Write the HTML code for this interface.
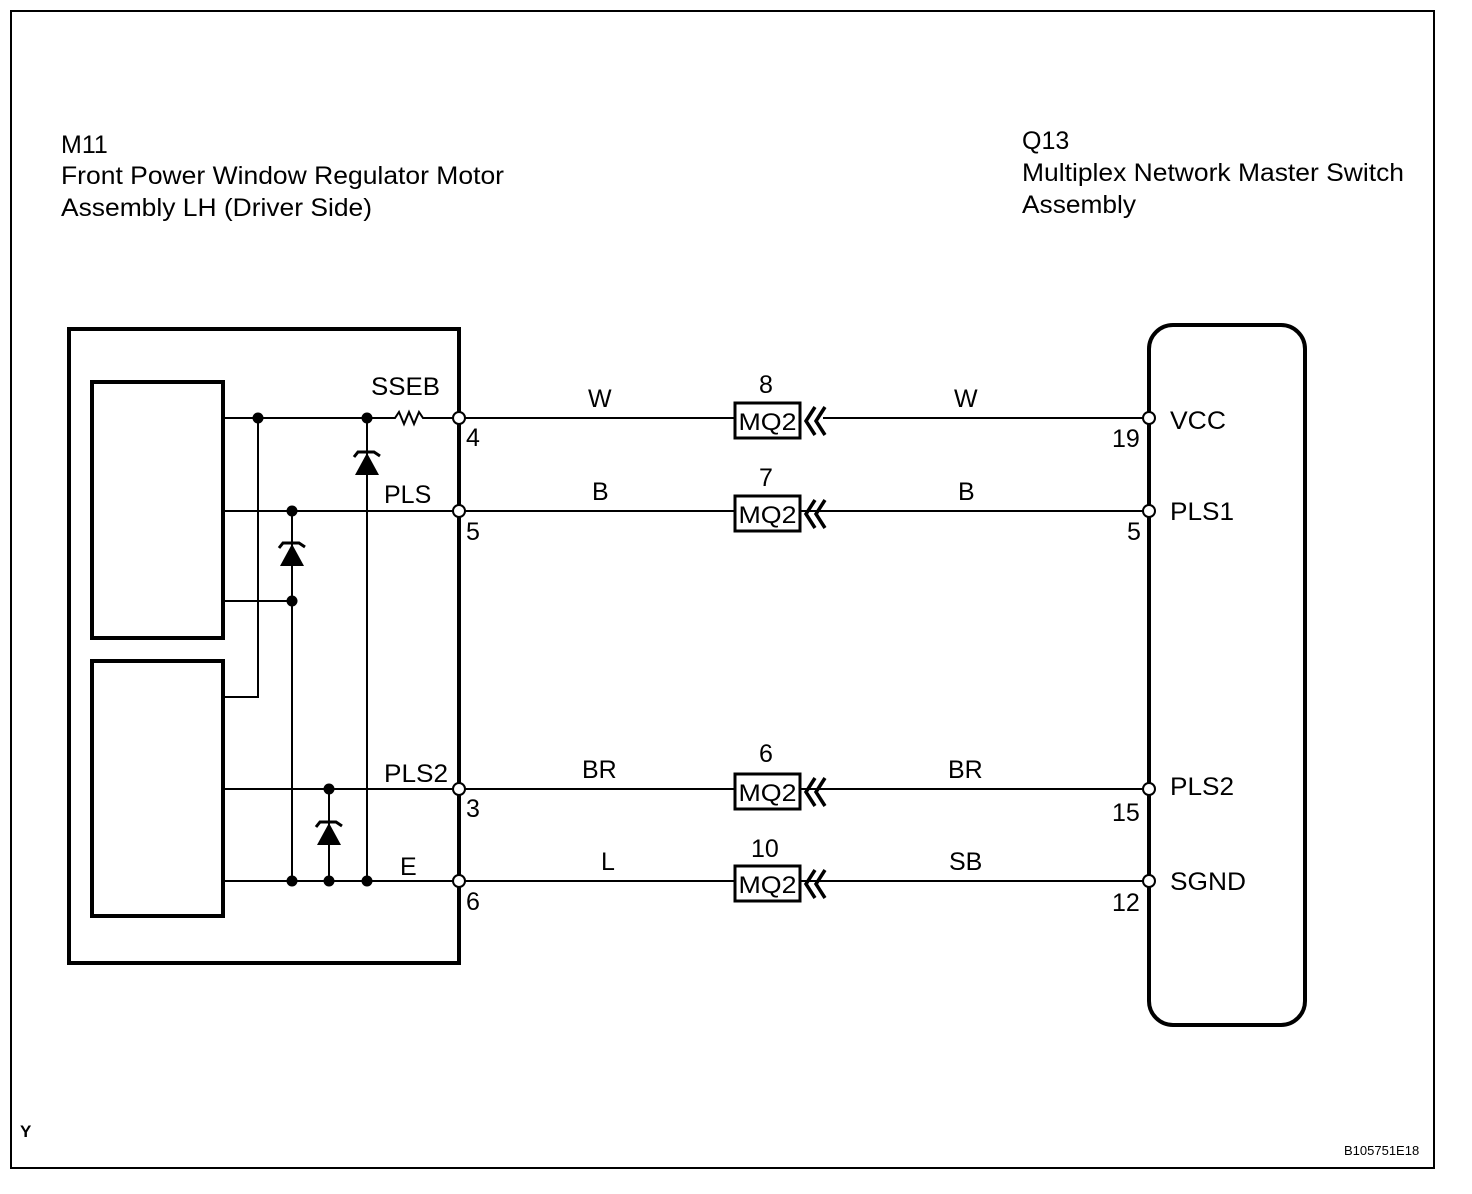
<!DOCTYPE html>
<html><head><style>body{margin:0;background:#fff}svg{display:block}text{font-family:"Liberation Sans",Arial,sans-serif;fill:#000}</style></head><body>
<svg width="1472" height="1194" viewBox="0 0 1472 1194">
<defs>
<g id="mq"><rect x="0" y="-17" width="65" height="35" fill="#fff" stroke="#000" stroke-width="3"/><text x="32.5" y="10" font-size="24" text-anchor="middle" textLength="58" lengthAdjust="spacingAndGlyphs">MQ2</text><path d="M80,-13 L71,1 L80,15 M90,-13 L81,1 L90,15" fill="none" stroke="#000" stroke-width="3.5"/></g>
<g id="zu"><path d="M-13,0 L-9,-5 L7,-5 L13,-1" fill="none" stroke="#000" stroke-width="3"/><path d="M-12,18 L12,18 L0,-4 Z" fill="#000"/></g>
</defs>
<rect x="11" y="11" width="1423" height="1157" fill="none" stroke="#000" stroke-width="2"/>
<g font-size="25">
<text x="61" y="153">M11</text>
<text x="61" y="184" textLength="443" lengthAdjust="spacingAndGlyphs">Front Power Window Regulator Motor</text>
<text x="61" y="216" textLength="311" lengthAdjust="spacingAndGlyphs">Assembly LH (Driver Side)</text>
<text x="1022" y="149">Q13</text>
<text x="1022" y="181" textLength="382" lengthAdjust="spacingAndGlyphs">Multiplex Network Master Switch</text>
<text x="1022" y="213" textLength="114" lengthAdjust="spacingAndGlyphs">Assembly</text>
</g>
<text x="20" y="1137" font-size="17" font-weight="bold">Y</text>
<text x="1344" y="1155" font-size="13">B105751E18</text>
<rect x="69" y="329" width="390" height="634" fill="none" stroke="#000" stroke-width="4"/>
<rect x="92" y="382" width="131" height="256" fill="none" stroke="#000" stroke-width="4"/>
<rect x="92" y="661" width="131" height="255" fill="none" stroke="#000" stroke-width="4"/>
<rect x="1149" y="325" width="156" height="700" rx="24" fill="none" stroke="#000" stroke-width="4"/>
<g stroke="#000" stroke-width="2" fill="none">
<path d="M223,418 H395 l4,-6 l5,12 l5,-12 l5,12 l5,-12 l4,6 H459"/>
<path d="M459,418 H735 M823,418 H1149"/>
<path d="M223,511 H1149 M223,789 H1149 M223,881 H1149"/>
<path d="M258,418 V697 H223 M223,601 H292 M292,511 V881 M329,789 V881 M367,418 V881"/>
</g>
<g fill="#000">
<circle cx="258" cy="418" r="5.5"/><circle cx="367" cy="418" r="5.5"/><circle cx="292" cy="511" r="5.5"/><circle cx="292" cy="601" r="5.5"/>
<circle cx="329" cy="789" r="5.5"/><circle cx="292" cy="881" r="5.5"/><circle cx="329" cy="881" r="5.5"/><circle cx="367" cy="881" r="5.5"/>
</g>
<use href="#zu" x="367" y="457"/><use href="#zu" x="292" y="548"/><use href="#zu" x="329" y="827"/>
<g fill="#fff" stroke="#000" stroke-width="2">
<circle cx="459" cy="418" r="6"/><circle cx="459" cy="511" r="6"/><circle cx="459" cy="789" r="6"/><circle cx="459" cy="881" r="6"/>
<circle cx="1149" cy="418" r="6"/><circle cx="1149" cy="511" r="6"/><circle cx="1149" cy="789" r="6"/><circle cx="1149" cy="881" r="6"/>
</g>
<use href="#mq" x="735" y="420"/><use href="#mq" x="735" y="513"/><use href="#mq" x="735" y="791"/><use href="#mq" x="735" y="883"/>
<g font-size="25">
<text x="371" y="395" textLength="69" lengthAdjust="spacingAndGlyphs">SSEB</text><text x="384" y="503">PLS</text><text x="384" y="782" textLength="64" lengthAdjust="spacingAndGlyphs">PLS2</text><text x="400" y="875">E</text>
<text x="466" y="446">4</text><text x="466" y="540">5</text><text x="466" y="817">3</text><text x="466" y="910">6</text>
<text x="759" y="393">8</text><text x="759" y="486">7</text><text x="759" y="762">6</text><text x="751" y="857">10</text>
<text x="588" y="407">W</text><text x="592" y="500">B</text><text x="582" y="778">BR</text><text x="601" y="870">L</text>
<text x="954" y="407">W</text><text x="958" y="500">B</text><text x="948" y="778">BR</text><text x="949" y="870">SB</text>
<text x="1112" y="447">19</text><text x="1127" y="540">5</text><text x="1112" y="821">15</text><text x="1112" y="911">12</text>
<text x="1170" y="429" textLength="56" lengthAdjust="spacingAndGlyphs">VCC</text><text x="1170" y="520" textLength="64" lengthAdjust="spacingAndGlyphs">PLS1</text><text x="1170" y="795" textLength="64" lengthAdjust="spacingAndGlyphs">PLS2</text><text x="1170" y="890" textLength="76" lengthAdjust="spacingAndGlyphs">SGND</text>
</g>
</svg>
</body></html>
